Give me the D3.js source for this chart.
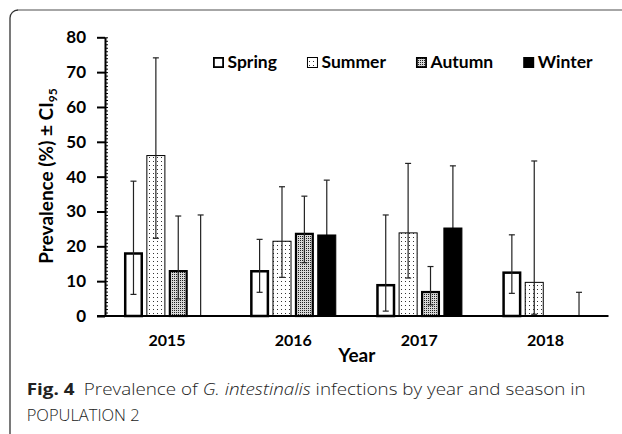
<!DOCTYPE html>
<html>
<head>
<meta charset="utf-8">
<script src="https://cdn.jsdelivr.net/npm/d3@7"></script>
<style>
  html, body { margin: 0; padding: 0; background: #fff; }
  svg { display: block; }
</style>
</head>
<body>
<div id="chart"></div>
<script>
const years = ['2015', '2016', '2017', '2018']
const seasons = ['Spring', 'Summer', 'Autumn', 'Winter']

// prevalence (%) per season, one value per year
const spring = [18.3, 13.2, 9.2, 12.8]
const summer = [46.2, 21.6, 24.0, 9.8]
const autumn = [13.2, 23.9, 7.2, null]
const winter = [0, 23.4, 25.4, 0]

// CI95 bounds
const springLo = [6.2, 6.8, 1.4, 6.5]
const springHi = [38.7, 22.0, 29.0, 23.3]
const summerLo = [22.3, 11.1, 10.9, 0.5]
const summerHi = [74.1, 37.1, 43.8, 44.5]
const autumnLo = [4.9, 15.3, 3.2, null]
const autumnHi = [28.7, 34.4, 14.2, null]
const winterLo = [0, 13.0, 12.0, 0]
const winterHi = [29.0, 39.0, 43.1, 6.8]

const yTicks = [0, 10, 20, 30, 40, 50, 60, 70, 80]

const series = {
    Spring: { v: spring, lo: springLo, hi: springHi },
    Summer: { v: summer, lo: summerLo, hi: summerHi },
    Autumn: { v: autumn, lo: autumnLo, hi: autumnHi },
    Winter: { v: winter, lo: winterLo, hi: winterHi },
}

const rows = []
seasons.forEach((s) => {
    years.forEach((yr, i) => {
        rows.push({ year: yr, season: s, value: series[s].v[i], lo: series[s].lo[i], hi: series[s].hi[i] })
    })
})

const CONFIG = {
    width: 622,
    height: 434,
    left: 105,
    right: 608.5,
    top: 37.3,
    bottom: 316,
}
const FONT = 'Lato, "Open Sans", sans-serif'

const svg = d3.select('#chart')
    .append('svg')
    .attr('width', CONFIG.width)
    .attr('height', CONFIG.height)

// patterns
const defs = svg.append('defs')
const pSummer = defs.append('pattern')
    .attr('id', 'pSummer').attr('patternUnits', 'userSpaceOnUse')
    .attr('width', 4).attr('height', 4)
pSummer.append('rect').attr('width', 4).attr('height', 4).attr('fill', '#fff')
pSummer.append('rect').attr('x', 1).attr('y', 1).attr('width', 1).attr('height', 1).attr('fill', '#333')

const pAutumn = defs.append('pattern')
    .attr('id', 'pAutumn').attr('patternUnits', 'userSpaceOnUse')
    .attr('width', 2).attr('height', 2)
pAutumn.append('rect').attr('width', 2).attr('height', 2).attr('fill', '#d8d8d8')
pAutumn.append('rect').attr('width', 1).attr('height', 1).attr('fill', '#222')

const style = {
    Spring: { fill: '#fff', stroke: '#000', sw: 2.5 },
    Summer: { fill: 'url(#pSummer)', stroke: '#000', sw: 1 },
    Autumn: { fill: 'url(#pAutumn)', stroke: '#000', sw: 2.2 },
    Winter: { fill: '#000', stroke: '#000', sw: 1 },
}

// frame
svg.append('path')
    .attr('d', 'M10,434 L10,18 A8,8 0 0 1 18,10')
    .attr('fill', 'none').attr('stroke', '#333').attr('stroke-width', 1.3)
svg.append('path')
    .attr('d', 'M18,10 L622,10')
    .attr('fill', 'none').attr('stroke', '#888').attr('stroke-width', 1.5)

// scales
const y = d3.scaleLinear().domain([0, 80]).range([CONFIG.bottom, CONFIG.top])
const x = d3.scaleBand()
    .domain(years)
    .range([CONFIG.left - 1, CONFIG.right])
    .paddingInner(0.29)
    .paddingOuter(0.145)
const xs = d3.scaleBand()
    .domain(seasons)
    .range([0, x.bandwidth()])
    .paddingInner(0.15)
    .paddingOuter(0.075)

const chart = svg.append('g')
const cx = (d) => x(d.year) + xs(d.season) + xs.bandwidth() / 2

function drawErrors(parent, data) {
    const eg = parent.selectAll(null)
        .data(data)
        .enter()
        .append('g')
        .attr('stroke', '#222')
        .attr('stroke-width', 1.2)
    eg.append('line')
        .attr('x1', cx).attr('x2', cx)
        .attr('y1', (d) => y(d.lo)).attr('y2', (d) => y(d.hi))
    eg.append('line')
        .attr('x1', (d) => cx(d) - 3).attr('x2', (d) => cx(d) + 3)
        .attr('y1', (d) => y(d.hi)).attr('y2', (d) => y(d.hi))
    eg.filter((d) => d.lo > 0).append('line')
        .attr('x1', (d) => cx(d) - 3).attr('x2', (d) => cx(d) + 3)
        .attr('y1', (d) => y(d.lo)).attr('y2', (d) => y(d.lo))
}

const errs = rows.filter((d) => d.hi != null)
// black bars hide their own error line
drawErrors(chart.append('g'), errs.filter((d) => d.season === 'Winter'))

// bars
const bars = rows.filter((d) => d.value != null && d.value > 0)
chart.append('g').selectAll('rect')
    .data(bars)
    .enter()
    .append('rect')
    .attr('x', (d) => x(d.year) + xs(d.season) + style[d.season].sw / 2)
    .attr('width', (d) => xs.bandwidth() - style[d.season].sw)
    .attr('y', (d) => y(d.value) + style[d.season].sw / 2)
    .attr('height', (d) => y(0) - y(d.value) - style[d.season].sw / 2)
    .attr('fill', (d) => style[d.season].fill)
    .attr('stroke', (d) => style[d.season].stroke)
    .attr('stroke-width', (d) => style[d.season].sw)

drawErrors(chart.append('g'), errs.filter((d) => d.season !== 'Winter'))

// minor ticks
svg.append('g')
    .attr('transform', `translate(${CONFIG.left}, 0)`)
    .call(d3.axisRight(y).tickValues(d3.range(0, 81, 1)).tickSize(3).tickFormat(''))
    .call((g) => g.select('.domain').remove())
    .call((g) => g.selectAll('line').attr('stroke-width', 1))

// y axis
svg.append('g')
    .attr('transform', `translate(${CONFIG.left}, 0)`)
    .call(d3.axisLeft(y).tickValues(yTicks).tickSize(8).tickSizeOuter(0).tickPadding(11))
    .call((g) => g.select('.domain').attr('stroke-width', 2))
    .call((g) => g.selectAll('.tick line').attr('stroke-width', 2))
    .call((g) => g.selectAll('text')
        .attr('font-family', FONT).attr('font-weight', 'bold')
        .attr('font-size', '17px').attr('fill', '#000'))

// x axis
svg.append('g')
    .attr('transform', `translate(0, ${CONFIG.bottom})`)
    .call(d3.axisBottom(x).tickSize(0).tickPadding(18.5))
    .call((g) => g.select('.domain').attr('d', `M${CONFIG.left - 8},0H${CONFIG.right}`).attr('stroke-width', 2))
    .call((g) => g.selectAll('text')
        .attr('font-family', FONT).attr('font-weight', 'bold')
        .attr('font-size', '16px').attr('fill', '#000'))

// axis titles
svg.append('text')
    .attr('x', (CONFIG.left + CONFIG.right) / 2)
    .attr('y', 361.7)
    .attr('text-anchor', 'middle')
    .attr('font-family', FONT).attr('font-weight', 'bold').attr('font-size', '19px')
    .text('Year')

const yt = svg.append('text')
    .attr('transform', 'translate(53, 176) rotate(-90)')
    .attr('text-anchor', 'middle')
    .attr('font-family', FONT).attr('font-weight', 'bold').attr('font-size', '19px')
yt.append('tspan').text('Prevalence (%) ± CI')
yt.append('tspan').attr('font-size', '12px').attr('dy', 4).text('95')

// legend
let lx = 213
seasons.forEach((s) => {
    const g = svg.append('g')
    const sw = s === 'Summer' ? 1 : 1.8
    g.append('rect')
        .attr('x', lx + sw / 2).attr('y', 57 + sw / 2)
        .attr('width', 11 - sw).attr('height', 11 - sw)
        .attr('fill', style[s].fill).attr('stroke', '#000').attr('stroke-width', sw)
    const t = g.append('text')
        .attr('x', lx + 14.5).attr('y', 68.3)
        .attr('font-family', FONT).attr('font-weight', 'bold').attr('font-size', '17.5px')
        .text(s)
    lx += 14.5 + t.node().getComputedTextLength() + 30
})

// caption
const cap = svg.append('text')
    .attr('x', 26.7).attr('y', 395)
    .attr('font-family', '"Open Sans", sans-serif').attr('font-size', '16.5px')
    .attr('fill', '#222')
cap.append('tspan').attr('font-weight', 'bold').text('Fig. 4')
cap.append('tspan').attr('font-weight', 300).text('\u2002Prevalence of ')
cap.append('tspan').attr('font-weight', 300).attr('font-style', 'italic').text('G. intestinalis')
cap.append('tspan').attr('font-weight', 300).text(' infections by year and season in')
cap.attr('textLength', 559).attr('lengthAdjust', 'spacingAndGlyphs')

svg.append('text')
    .attr('x', 26.7).attr('y', 420.5)
    .attr('font-family', '"Open Sans", sans-serif').attr('font-size', '16.5px')
    .attr('font-weight', 300).attr('fill', '#222')
    .attr('textLength', 113).attr('lengthAdjust', 'spacingAndGlyphs')
    .text('POPULATION 2')
</script>
</body>
</html>
